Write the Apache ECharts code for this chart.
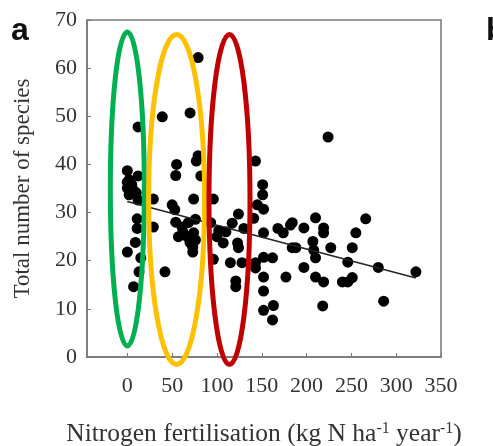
<!DOCTYPE html>
<html>
<head>
<meta charset="utf-8">
<script src="https://cdn.jsdelivr.net/npm/echarts@6/dist/echarts.min.js"></script>
<style>html,body{margin:0;padding:0;background:#fff}#c{width:493px;height:446px}</style>
</head>
<body>
<div id="c"></div>
<script>
const xTicks = [0, 50, 100, 150, 200, 250, 300, 350];
const yTicks = [0, 10, 20, 30, 40, 50, 60, 70];
const points = [
  [0,38.7],[12,37.6],[2,36.8],[5,35.8],[0,35.1],[7,34.6],[2,33.7],[10,34.1],[0,36.3],[12,32.6],
  [12,47.8],[11,28.7],[11,26.7],[9,23.8],[0,21.8],[15,20.6],[13,17.7],[7,14.6],[29,27],[29,32.8],
  [39,49.9],[70,50.7],[79,62.2],[55,40],[54,37.7],[77,40.7],[79,41.8],[82,37.6],[74,32.8],[50,31.6],
  [53,30.6],[54,28],[61,27],[68,27.9],[76,28.6],[57,25],[67,25],[76,24.3],[73,22.8],[62,26],
  [70,23.8],[74,25.8],[73,21.8],[42,17.7],
  [96,32.8],[93,27.9],[124,29.7],[141,28.8],[145,31.6],[152,30.7],[151,33.7],[151,35.8],[143,40.7],[117,27.8],
  [130,26.7],[102,26.3],[110,26],[100,25],[107,23.7],[123,23.7],[124,22.7],[152,25.8],[168,26.7],[174,25.8],
  [182,27.4],[184,27.9],[197,26.8],[210,28.9],[219,26.8],[219,25.8],[266,28.7],[255,25.8],[207,24],[184,22.7],
  [188,22.7],[208,22.2],[227,22.7],[251,22.7],[210,20.6],[246,19.7],[280,18.6],[96,20.3],[115,19.6],[128,19.6],
  [143,19.6],[152,20.7],[162,20.6],[143,18.5],[121,15.8],[121,14.6],[152,16.6],[177,16.6],[197,18.6],[210,16.6],
  [219,15.6],[240,15.6],[246,15.6],[251,16.5],[152,13.7],[163,10.7],[152,9.7],[162,7.7],[218,10.6],[224,45.7],
  [322,17.7],[286,11.6]
];
const trendLine = [[0,32.3],[322,16.4]];
// highlighted groups: [centre x value, colour]
const groups = [[0,'#00B050'],[55,'#FFC000'],[114,'#C00000']];

const serif = '"Liberation Serif","Times New Roman",serif';
const chart = echarts.init(document.getElementById('c'));
chart.setOption({
  animation: false,
  backgroundColor: '#fff',
  grid: {left: 87, top: 20, right: 52, bottom: 89, outerBoundsMode: 'none', containLabel: false, show: true, borderColor: '#777', borderWidth: 1.5},
  xAxis: {
    type: 'value', min: -45, max: 350,
    axisLine: {show: true, onZero: false, lineStyle: {color: '#777', width: 1.5}},
    axisTick: {show: true, inside: true, length: 4, customValues: xTicks, lineStyle: {color: '#777'}},
    axisLabel: {customValues: xTicks, fontFamily: serif, fontSize: 22, color: '#333', margin: 18},
    splitLine: {show: false},
    name: '{n|Nitrogen fertilisation (kg N ha}{s|-1}{n| year}{s|-1}{n|)}',
    nameLocation: 'middle', nameGap: 64,
    nameTextStyle: {rich: {
      n: {fontFamily: serif, fontSize: 25.5, color: '#333', lineHeight: 26, verticalAlign: 'bottom'},
      s: {fontFamily: serif, fontSize: 16, color: '#333', lineHeight: 26, verticalAlign: 'top'}
    }}
  },
  yAxis: {
    type: 'value', min: 0, max: 70, interval: 10,
    axisLine: {show: true, onZero: false, lineStyle: {color: '#777', width: 1.5}},
    axisTick: {show: true, inside: true, length: 4, lineStyle: {color: '#777'}},
    axisLabel: {fontFamily: serif, fontSize: 22, color: '#333', margin: 10},
    splitLine: {show: false},
    name: 'Total number of species', nameLocation: 'middle', nameGap: 53,
    nameTextStyle: {fontFamily: serif, fontSize: 23, color: '#333'}
  },
  series: [
    {type: 'scatter', data: points, symbolSize: 11, itemStyle: {color: '#000', opacity: 1}, z: 2},
    {type: 'line', data: trendLine, showSymbol: false, symbol: 'none', lineStyle: {color: '#222', width: 1.4}, z: 3}
  ]
});

const ellipses = groups.map(function (g) {
  const c = chart.convertToPixel({gridIndex: 0}, [g[0], 34.5]);
  const rx = g[1] === '#00B050' ? 17 : (g[1] === '#FFC000' ? 28 : 20.5);
  const ry = g[1] === '#00B050' ? 157 : 165;
  const cy = g[1] === '#00B050' ? 189 : 199.5;
  return {type: 'ellipse', shape: {cx: c[0], cy: cy, rx: rx, ry: ry}, style: {fill: null, stroke: g[1], lineWidth: 5}, z: 100};
});
chart.setOption({graphic: ellipses.concat([
  {type: 'text', left: 11, top: 15, style: {text: 'a', font: 'bold 32px "Liberation Sans", Arial, sans-serif', fill: '#111'}, z: 100},
  {type: 'text', left: 486, top: 15, style: {text: 'b', font: 'bold 32px "Liberation Sans", Arial, sans-serif', fill: '#111'}, z: 100}
])});
</script>
</body>
</html>
